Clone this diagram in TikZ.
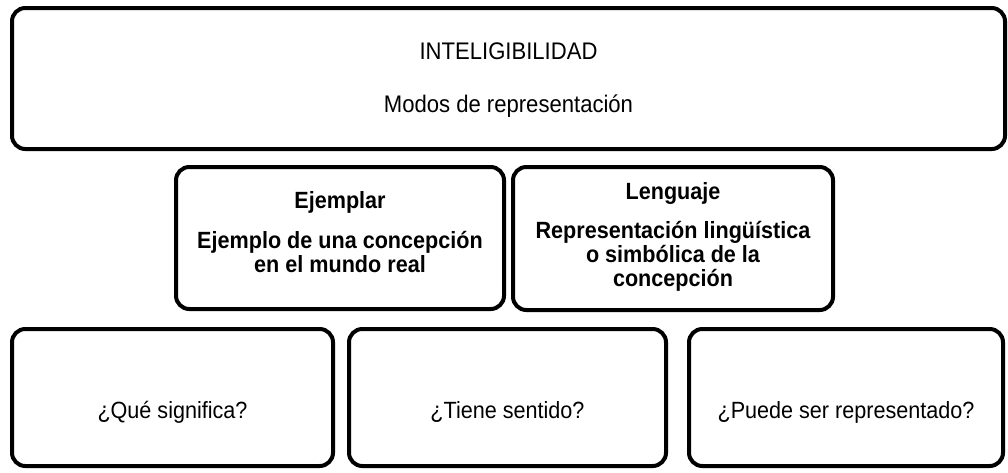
\documentclass[tikz,border=0pt]{standalone}
\usepackage{fontspec}
\setmainfont[FakeStretch=0.92]{Liberation Sans}
\begin{document}
\begin{tikzpicture}[x=0.75pt,y=-0.75pt,
  box/.style={draw=black, line width=3pt, rounded corners=10pt, inner sep=0pt, fill=white},
  txt/.style={anchor=base, inner sep=0pt, font=\fontsize{17.6}{20}\selectfont},
  ttxt/.style={anchor=base, inner sep=0pt, font=\fontsize{18}{20}\selectfont},
  btxt/.style={anchor=base, inner sep=0pt, font=\fontsize{17.6}{20}\selectfont\bfseries}]
\useasboundingbox (0,0) rectangle (1008,472);
% boxes
\node[box, minimum width={993*0.75pt}, minimum height={141*0.75pt}] (top) at (508.5,78.5) {};
\node[box, minimum width={328*0.75pt}, minimum height={142*0.75pt}] (ejem) at (340,238) {};
\node[box, minimum width={320*0.75pt}, minimum height={143*0.75pt}] (leng) at (673,238.5) {};
\node[box, minimum width={321*0.75pt}, minimum height={137*0.75pt}] (q1) at (172.5,397.5) {};
\node[box, minimum width={317*0.75pt}, minimum height={137*0.75pt}] (q2) at (507.5,397.5) {};
\node[box, minimum width={314*0.75pt}, minimum height={137*0.75pt}] (q3) at (846,397.5) {};
% texts
\node[ttxt] (t1) at (508.5,59) {INTELIGIBILIDAD};
\node[ttxt] (t2) at (508.5,112) {Modos de representación};
\node[btxt] (e1) at (340,208) {Ejemplar};
\node[btxt] (e2) at (340,248) {Ejemplo de una concepción};
\node[btxt] (e3) at (340,272) {en el mundo real};
\node[btxt] (l1) at (673,199) {Lenguaje};
\node[btxt] (l2) at (673,238) {Representación lingüística};
\node[btxt] (l3) at (673,262) {o simbólica de la};
\node[btxt] (l4) at (673,286) {concepción};
\node[txt] (s1) at (172.5,418) {¿Qué significa?};
\node[txt] (s2) at (507.5,418) {¿Tiene sentido?};
\node[txt] (s3) at (846,418) {¿Puede ser representado?};
\end{tikzpicture}
\end{document}
